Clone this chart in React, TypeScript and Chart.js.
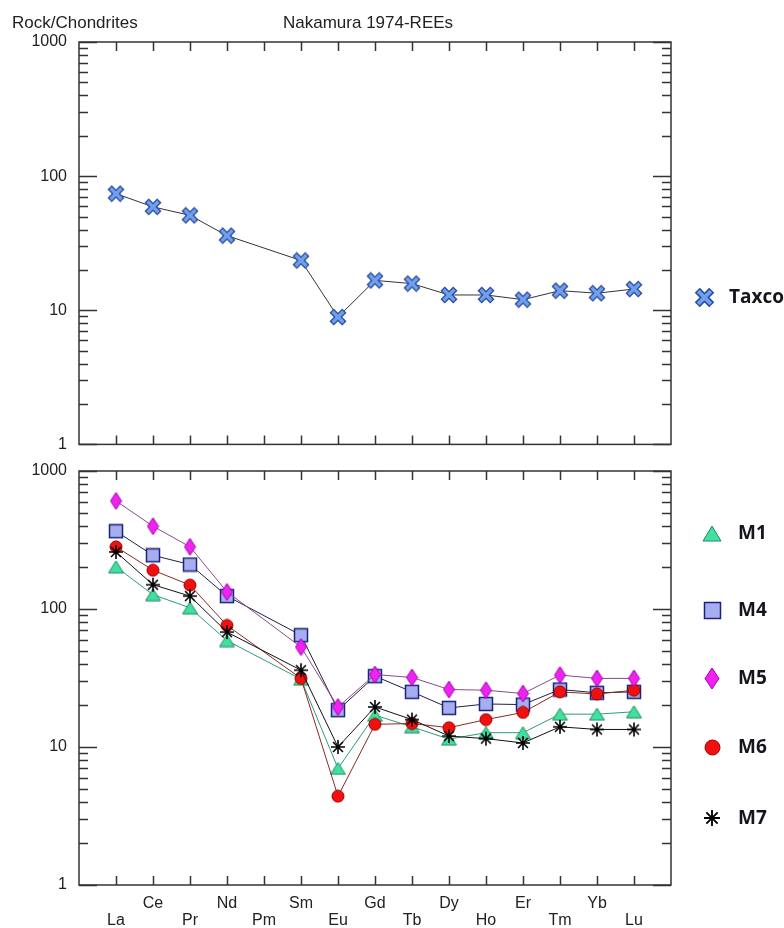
import React, { useEffect, useRef } from "react";
import { Chart, registerables } from "chart.js";

Chart.register(...registerables);

// ---------- data ----------
const elements = ["La", "Ce", "Pr", "Nd", "Pm", "Sm", "Eu", "Gd", "Tb", "Dy", "Ho", "Er", "Tm", "Yb", "Lu"];
const yTicks = [1, 10, 100, 1000];

const taxco = [74, 59, 51, 36, null, 23.5, 8.9, 16.7, 15.8, 13.0, 13.0, 12.0, 14.0, 13.4, 14.4];
const m1 = [202, 127, 102, 59, null, 31, 7.0, 17, 14, 11.4, 12.7, 12.7, 17.3, 17.3, 18];
const m4 = [366, 245, 210, 124, null, 64.6, 18.5, 32.6, 25.1, 19.2, 20.5, 20.3, 26.1, 24.7, 25.1];
const m5 = [607, 398, 282, 133, null, 53, 19.5, 33.5, 31.9, 26.1, 25.8, 24.4, 33.2, 31.4, 31.4];
const m6 = [282, 191, 149, 76, null, 31.4, 4.4, 14.6, 14.8, 13.8, 15.8, 17.8, 25.1, 24.2, 25.8];
const m7 = [259, 150, 124, 68, null, 36, 10, 19.5, 15.8, 12, 11.5, 10.7, 14, 13.4, 13.4];

const TICK_FONT = "'Liberation Sans', Arial, sans-serif";
const LEGEND_FONT = "bold 19px 'Open Sans', 'Liberation Sans', sans-serif";

// ---------- marker images ----------
function makeMarker(kind: string, s: number): HTMLCanvasElement {
  const c = document.createElement("canvas");
  let w = 16, h = 16;
  if (kind === "x") { w = h = 16; }
  if (kind === "tri") { w = 17; h = 14; }
  if (kind === "sq") { w = h = 15; }
  if (kind === "dia") { w = 13; h = 19; }
  if (kind === "circ") { w = h = 14; }
  if (kind === "ast") { w = h = 16; }
  w = Math.round(w * s); h = Math.round(h * s);
  c.width = w; c.height = h;
  const g = c.getContext("2d")!;
  if (kind === "x") {
    const p = 3.2 * s;
    g.lineCap = "butt";
    g.strokeStyle = "#2b4c9b"; g.lineWidth = 5.5 * s;
    g.beginPath();
    g.moveTo(p - 0.9, p - 0.9); g.lineTo(w - p + 0.9, h - p + 0.9);
    g.moveTo(w - p + 0.9, p - 0.9); g.lineTo(p - 0.9, h - p + 0.9);
    g.stroke();
    g.strokeStyle = "#6fa0f0"; g.lineWidth = 3 * s;
    g.beginPath();
    g.moveTo(p, p); g.lineTo(w - p, h - p);
    g.moveTo(w - p, p); g.lineTo(p, h - p);
    g.stroke();
  } else if (kind === "tri") {
    g.beginPath();
    g.moveTo(w / 2, 1); g.lineTo(w - 1, h - 1); g.lineTo(1, h - 1); g.closePath();
    g.fillStyle = "#40e0a0"; g.fill();
    g.strokeStyle = "#1e8c60"; g.lineWidth = 1; g.stroke();
  } else if (kind === "sq") {
    g.fillStyle = "#a6aef0"; g.fillRect(1.5, 1.5, w - 3, h - 3);
    g.strokeStyle = "#1a237e"; g.lineWidth = 1.5; g.strokeRect(1.5, 1.5, w - 3, h - 3);
  } else if (kind === "dia") {
    g.beginPath();
    g.moveTo(w / 2, 1); g.lineTo(w - 1, h / 2); g.lineTo(w / 2, h - 1); g.lineTo(1, h / 2); g.closePath();
    g.fillStyle = "#f022f0"; g.fill();
    g.strokeStyle = "#a000b0"; g.lineWidth = 1; g.stroke();
  } else if (kind === "circ") {
    g.beginPath();
    g.arc(w / 2, h / 2, w / 2 - 1, 0, Math.PI * 2);
    g.fillStyle = "#f01010"; g.fill();
    g.strokeStyle = "#a00000"; g.lineWidth = 1; g.stroke();
  } else if (kind === "ast") {
    const cx = w / 2, cy = h / 2, r = w / 2 - 1;
    g.strokeStyle = "#000"; g.lineWidth = 1.6 * s;
    g.beginPath();
    for (let k = 0; k < 4; k++) {
      const a = (k * Math.PI) / 4;
      g.moveTo(cx + r * Math.cos(a), cy + r * Math.sin(a));
      g.lineTo(cx - r * Math.cos(a), cy - r * Math.sin(a));
    }
    g.stroke();
  }
  return c;
}

function pts(arr: (number | null)[]) {
  return arr.map((v, i) => ({ x: i, y: v })).filter((p) => p.y != null);
}

// ---------- plugins ----------
const framePlugin = {
  id: "frameTicks",
  beforeDatasetsDraw(chart: any) {
    const { ctx, chartArea: a, scales } = chart;
    const xs = scales.x, ys = scales.y;
    ctx.save();
    ctx.strokeStyle = "#333";
    ctx.lineWidth = 1.5;
    ctx.strokeRect(a.left, a.top, a.right - a.left, a.bottom - a.top);
    ctx.beginPath();
    elements.forEach((_, i) => {
      const px = Math.round(xs.getPixelForValue(i)) + 0.5;
      ctx.moveTo(px, a.bottom); ctx.lineTo(px, a.bottom - 9);
      ctx.moveTo(px, a.top); ctx.lineTo(px, a.top + 9);
    });
    yTicks.forEach((d, k) => {
      const py = Math.round(ys.getPixelForValue(d)) + 0.5;
      ctx.moveTo(a.left, py); ctx.lineTo(a.left + 18, py);
      ctx.moveTo(a.right, py); ctx.lineTo(a.right - 18, py);
      if (k < yTicks.length - 1) {
        for (let m = 2; m <= 9; m++) {
          const q = Math.round(ys.getPixelForValue(d * m)) + 0.5;
          ctx.moveTo(a.left, q); ctx.lineTo(a.left + 9, q);
          ctx.moveTo(a.right, q); ctx.lineTo(a.right - 9, q);
        }
      }
    });
    ctx.stroke();
    ctx.restore();
  },
};

function makeLegendPlugin(rows: number[], markerX: number, textX: number) {
  return {
    id: "sideLegend",
    afterDraw(chart: any) {
      const ctx = chart.ctx;
      ctx.save();
      chart.data.datasets.forEach((ds: any, i: number) => {
        const y = rows[i];
        const img = ds.legendImg as HTMLCanvasElement;
        ctx.drawImage(img, Math.round(markerX - img.width / 2), Math.round(y - img.height / 2));
        ctx.font = LEGEND_FONT;
        ctx.fillStyle = "#15151f";
        ctx.textBaseline = "middle";
        ctx.textAlign = "left";
        ctx.fillText(ds.label, textX, y + 1);
      });
      ctx.restore();
    },
  };
}

const titlePlugin = {
  id: "titles",
  afterDraw(chart: any) {
    const ctx = chart.ctx;
    ctx.save();
    ctx.font = `17px ${TICK_FONT}`;
    ctx.fillStyle = "#222";
    ctx.textBaseline = "middle";
    ctx.textAlign = "left";
    ctx.fillText("Rock/Chondrites", 12, 23);
    ctx.fillText("Nakamura 1974-REEs", 283, 23);
    ctx.restore();
  },
};

function yScale() {
  return {
    type: "logarithmic" as const,
    min: 1,
    max: 1000,
    position: "left" as const,
    afterBuildTicks: (s: any) => {
      s.ticks = yTicks.map((v) => ({ value: v, major: true }));
    },
    afterFit: (s: any) => {
      s.width = 79;
    },
    ticks: {
      autoSkip: false,
      padding: 12,
      color: "#222",
      font: { family: TICK_FONT, size: 16 },
      callback: (v: any) => String(v),
    },
    grid: { display: false, drawTicks: false },
    border: { display: false },
  };
}

export default function App() {
  const topRef = useRef<HTMLCanvasElement>(null);
  const botRef = useRef<HTMLCanvasElement>(null);

  useEffect(() => {
    const dsTop = [
      {
        label: "Taxco",
        data: pts(taxco),
        borderColor: "#333333",
        borderWidth: 1,
        pointStyle: makeMarker("x", 1.1),
        legendImg: makeMarker("x", 1.3),
        pointRadius: 7,
        order: 1,
      },
    ];
    const dsBot = [
      { label: "M1", data: pts(m1), borderColor: "#2f9a78", pointStyle: makeMarker("tri", 1), legendImg: makeMarker("tri", 1.2), order: 5 },
      { label: "M4", data: pts(m4), borderColor: "#1e2040", pointStyle: makeMarker("sq", 1.05), legendImg: makeMarker("sq", 1.25), order: 4 },
      { label: "M5", data: pts(m5), borderColor: "#8a4a8a", pointStyle: makeMarker("dia", 1), legendImg: makeMarker("dia", 1.2), order: 1 },
      { label: "M6", data: pts(m6), borderColor: "#8a2a20", pointStyle: makeMarker("circ", 1), legendImg: makeMarker("circ", 1.2), order: 3 },
      { label: "M7", data: pts(m7), borderColor: "#111111", pointStyle: makeMarker("ast", 1), legendImg: makeMarker("ast", 1.15), order: 2 },
    ].map((d) => ({ ...d, borderWidth: 1, pointRadius: 7 }));

    const common = {
      responsive: false,
      animation: false as const,
      events: [] as any[],
      plugins: { legend: { display: false }, tooltip: { enabled: false } },
    };

    const c1 = new Chart(topRef.current!, {
      type: "line",
      data: { datasets: dsTop as any },
      options: {
        ...common,
        layout: { padding: { top: 42, right: 113, bottom: 9, left: 0 } },
        scales: {
          x: { type: "linear", min: -1, max: 15, display: false },
          y: yScale() as any,
        },
      } as any,
      plugins: [framePlugin, titlePlugin, makeLegendPlugin([297], 704, 729)],
    });

    const c2 = new Chart(botRef.current!, {
      type: "line",
      data: { datasets: dsBot as any },
      options: {
        ...common,
        layout: { padding: { top: 31, right: 113, bottom: 0, left: 0 } },
        scales: {
          x: {
            type: "linear",
            min: -1,
            max: 15,
            position: "bottom",
            afterBuildTicks: (s: any) => {
              s.ticks = elements.map((_, i) => ({ value: i }));
            },
            afterFit: (s: any) => {
              s.height = 43;
            },
            ticks: {
              autoSkip: false,
              maxRotation: 0,
              minRotation: 0,
              padding: 10,
              color: "#222",
              font: { family: TICK_FONT, size: 16, lineHeight: "17px" },
              callback: (v: any) => {
                const i = Math.round(v);
                return i % 2 === 1 ? [elements[i], ""] : ["", elements[i]];
              },
            },
            grid: { display: false, drawTicks: false },
            border: { display: false },
          },
          y: yScale() as any,
        },
      } as any,
      plugins: [
        framePlugin,
        makeLegendPlugin([533 - 440, 610 - 440, 678 - 440, 747 - 440, 818 - 440], 712, 738),
      ],
    });

    return () => {
      c1.destroy();
      c2.destroy();
    };
  }, []);

  return (
    <div style={{ position: "absolute", left: 0, top: 0, width: 784, height: 928, background: "#fff" }}>
      <canvas
        ref={topRef}
        width={784}
        height={466}
        style={{ position: "absolute", left: 0, top: 0, width: 784, height: 466 }}
      />
      <canvas
        ref={botRef}
        width={784}
        height={488}
        style={{ position: "absolute", left: 0, top: 440, width: 784, height: 488 }}
      />
    </div>
  );
}
